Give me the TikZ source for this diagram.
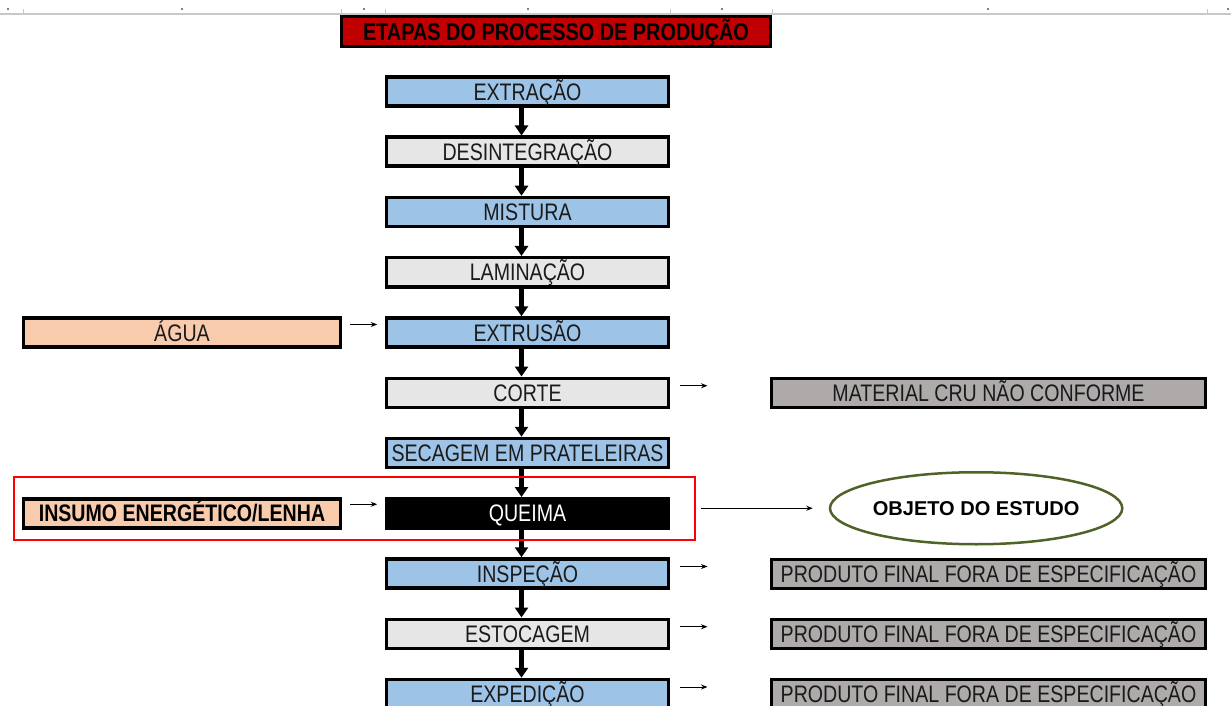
\documentclass[tikz,border=0pt]{standalone}
\usepackage{fontspec}
\setmainfont{Liberation Sans}
\newfontfamily\narrowfont[FakeStretch=0.82]{Liberation Sans}
\usetikzlibrary{positioning,arrows.meta,shapes.geometric,fit}
\definecolor{stepblue}{HTML}{9DC3E6}
\definecolor{steplight}{HTML}{E7E6E6}
\definecolor{inputpeach}{HTML}{F8CBAD}
\definecolor{rejectgray}{HTML}{AEAAAA}
\definecolor{titlered}{HTML}{C00000}
\definecolor{framered}{HTML}{FF0000}
\definecolor{ovalgreen}{HTML}{4F6228}
\definecolor{rulegray}{HTML}{C8C8C8}
\definecolor{boxtext}{HTML}{1A1A1A}

\begin{document}
\begin{tikzpicture}[
    node distance=0.555cm,
    every node/.style={font=\narrowfont\fontsize{13.6}{16}\selectfont, text=boxtext},
    stage/.style={
      draw=black, line width=0.07cm,
      minimum width=5.64cm, minimum height=0.58cm,
      inner sep=0pt, text height=9.7pt, text depth=0pt
    },
    bluestage/.style={stage, fill=stepblue},
    lightstage/.style={stage, fill=steplight},
    inputbox/.style={stage, fill=inputpeach, minimum width=6.34cm},
    rejectbox/.style={stage, fill=rejectgray, minimum width=8.68cm, line width=0.06cm},
    flow/.style={line width=0.1cm, -{Triangle[width=0.26cm,length=0.2cm]}},
    sidearrow/.style={line width=0.02cm, -{Stealth[length=0.13cm,width=0.1cm]}},
    outarrow/.style={sidearrow, shorten <=0.19cm, shorten >=1.25cm},
    inarrow/.style={sidearrow, shorten <=0.15cm, shorten >=0.15cm}
  ]
  \useasboundingbox (0,0) rectangle (24.62,-14.12);

  % linha da grade no topo
  \draw[rulegray, line width=0.04cm] (0,-0.28) -- (24.62,-0.28);
  \foreach \x in {0.46,6.82,7.70,13.40,15.44,24.14}
    \draw[rulegray, line width=0.02cm] (\x,-0.18) -- (\x,-0.27);
  \foreach \x in {0.16,3.64,7.28,10.56,14.44,19.76,24.56}
    \draw[gray, line width=0.03cm] (\x,-0.16) -- (\x,-0.2);

  \node[stage, fill=titlered, line width=0.06cm, minimum width=8.58cm, minimum height=0.6cm,
        font=\narrowfont\bfseries\fontsize{13.8}{16}\selectfont, text=black]
    (titulo) at (11.12,-0.63) {ETAPAS DO PROCESSO DE PRODUÇÃO};

  \node[bluestage] (extracao) at (10.55,-1.83) {EXTRAÇÃO};
  \node[lightstage, below=of extracao] (desint) {DESINTEGRAÇÃO};
  \node[bluestage, below=of desint] (mistura) {MISTURA};
  \node[lightstage, below=of mistura] (laminacao) {LAMINAÇÃO};
  \node[bluestage, below=of laminacao] (extrusao) {EXTRUSÃO};
  \node[lightstage, below=of extrusao] (corte) {CORTE};
  \node[bluestage, below=of corte] (secagem) {SECAGEM EM PRATELEIRAS};
  \node[stage, fill=black, text=white, below=of secagem] (queima) {QUEIMA};
  \node[bluestage, below=of queima] (inspecao) {INSPEÇÃO};
  \node[lightstage, below=of inspecao] (estocagem) {ESTOCAGEM};
  \node[bluestage, below=of estocagem] (expedicao) {EXPEDIÇÃO};

  \foreach \a/\b in {extracao/desint, desint/mistura, mistura/laminacao,
                     laminacao/extrusao, extrusao/corte, corte/secagem,
                     secagem/queima, queima/inspecao, inspecao/estocagem,
                     estocagem/expedicao}
    \draw[flow] ([xshift=-0.12cm]\a.south) -- ([xshift=-0.12cm]\b.north);

  % entradas
  \node[inputbox, left=0.85cm of extrusao] (agua) {ÁGUA};
  \node[inputbox, left=0.85cm of queima, font=\narrowfont\bfseries\fontsize{13.6}{16}\selectfont,
        text=black] (insumo) {INSUMO ENERGÉTICO/LENHA};
  \draw[inarrow] ([yshift=0.16cm]agua.east) -- ([yshift=0.16cm]extrusao.west);
  \draw[inarrow] ([yshift=0.18cm]insumo.east) -- ([yshift=0.18cm]queima.west);

  % saidas
  \node[rejectbox, right=1.995cm of corte] (material) {MATERIAL CRU NÃO CONFORME};
  \node[rejectbox, right=1.995cm of inspecao] (refinsp) {PRODUTO FINAL FORA DE ESPECIFICAÇÃO};
  \node[rejectbox, right=1.995cm of estocagem] (refestoc) {PRODUTO FINAL FORA DE ESPECIFICAÇÃO};
  \node[rejectbox, right=1.995cm of expedicao] (refexped) {PRODUTO FINAL FORA DE ESPECIFICAÇÃO};
  \draw[outarrow] ([yshift=0.14cm]corte.east) -- ([yshift=0.14cm]material.west);
  \draw[outarrow] ([yshift=0.14cm]inspecao.east) -- ([yshift=0.14cm]refinsp.west);
  \draw[outarrow] ([yshift=0.14cm]estocagem.east) -- ([yshift=0.14cm]refestoc.west);
  \draw[outarrow] ([yshift=0.14cm]expedicao.east) -- ([yshift=0.14cm]refexped.west);

  % destaque da queima
  \node[draw=framered, line width=0.04cm, inner sep=0pt,
        fit={([xshift=-0.16cm,yshift=-0.2cm]insumo.south west)
             ([xshift=0.5cm,yshift=0.4cm]queima.north east)}] (foco) {};
  \node[ellipse, draw=ovalgreen, line width=0.05cm, minimum width=5.84cm, minimum height=1.44cm,
        inner sep=0pt, right=2.65cm of foco, font=\bfseries\fontsize{11.4}{14}\selectfont, text=black]
    (objeto) {OBJETO DO ESTUDO};
  \draw[sidearrow, shorten <=0.1cm, shorten >=0.32cm] (foco) -- (objeto);
\end{tikzpicture}
\end{document}
